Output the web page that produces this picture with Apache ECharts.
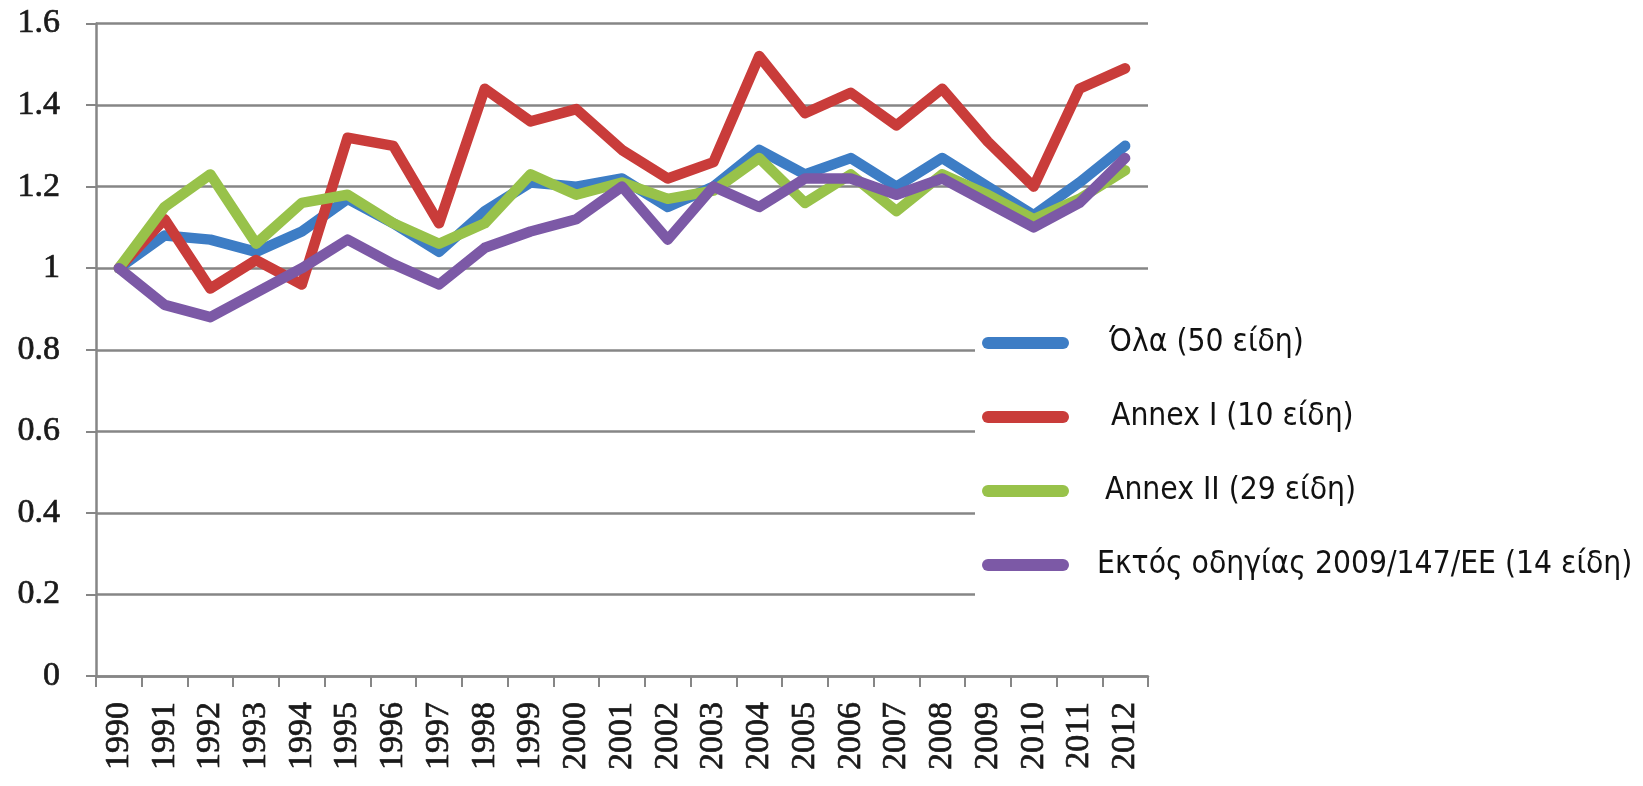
<!DOCTYPE html>
<html>
<head>
<meta charset="utf-8">
<title>Δείκτης πτηνών 1990–2012</title>
<style>
  html, body { margin: 0; padding: 0; background: #fff; }
  #chart { width: 1643px; height: 786px; }
</style>
<script src="https://cdn.jsdelivr.net/npm/echarts@6/dist/echarts.min.js"></script>
</head>
<body>
<div id="chart"></div>
<script>
// Years on the horizontal axis
var years = ['1990','1991','1992','1993','1994','1995','1996','1997','1998','1999','2000',
             '2001','2002','2003','2004','2005','2006','2007','2008','2009','2010','2011','2012'];

// Series names
var nameAll     = 'Όλα (50 είδη)';
var nameAnnex1  = 'Annex I (10 είδη)';
var nameAnnex2  = 'Annex II (29 είδη)';
var nameOutside = 'Εκτός οδηγίας 2009/147/ΕΕ (14 είδη)';

// Index values (1990 = 1)
var allSpecies = [1.00,1.08,1.07,1.04,1.09,1.17,1.11,1.04,1.14,1.21,1.20,1.22,1.15,1.20,1.29,1.23,1.27,1.20,1.27,1.20,1.13,1.21,1.30];
var annexI     = [1.00,1.12,0.95,1.02,0.96,1.32,1.30,1.11,1.44,1.36,1.39,1.29,1.22,1.26,1.52,1.38,1.43,1.35,1.44,1.31,1.20,1.44,1.49];
var annexII    = [1.00,1.15,1.23,1.06,1.16,1.18,1.11,1.06,1.11,1.23,1.18,1.21,1.17,1.19,1.27,1.16,1.23,1.14,1.23,1.18,1.12,1.17,1.24];
var outside    = [1.00,0.91,0.88,0.94,1.00,1.07,1.01,0.96,1.05,1.09,1.12,1.20,1.07,1.20,1.15,1.22,1.22,1.18,1.22,1.16,1.10,1.16,1.27];

var colors = ['#3d7dc5', '#c93c3a', '#98c24a', '#7c59a6'];

var chart = echarts.init(document.getElementById('chart'), null, { renderer: 'canvas' });

var gridColor = '#868686';
// serif tick labels, given a thin outline of the same colour for a heavier stroke
var labelFont = {
  fontFamily: 'Liberation Serif', fontSize: 34, color: '#1a1a1a',
  textBorderColor: '#1a1a1a', textBorderWidth: 0.7
};

function lineSeries(name, data, color) {
  return {
    name: name,
    type: 'line',
    data: data,
    symbol: 'none',
    smooth: false,
    itemStyle: { color: color },
    lineStyle: { width: 10.5, color: color, cap: 'round', join: 'round' },
    emphasis: { disabled: true },
    animation: false
  };
}

// capsule-shaped legend swatch
var swatch = 'path://M6,0 H81 A6,6 0 0 1 81,12 H6 A6,6 0 0 1 6,0 Z';

chart.setOption({
  backgroundColor: '#ffffff',
  animation: false,
  grid: { left: 96, right: 495, top: 23.5, bottom: 110, containLabel: false },
  xAxis: {
    type: 'category',
    data: years,
    boundaryGap: true,
    axisLine: { show: true, lineStyle: { color: gridColor, width: 2.5 } },
    axisTick: { show: true, alignWithLabel: false, interval: 0, length: 11, lineStyle: { color: gridColor, width: 2 } },
    axisLabel: Object.assign({ rotate: 90, interval: 0, margin: 26 }, labelFont),
    splitLine: { show: false }
  },
  yAxis: {
    type: 'value',
    min: 0,
    max: 1.6,
    interval: 0.2,
    axisLine: { show: true, lineStyle: { color: gridColor, width: 2.5 } },
    axisTick: { show: true, length: 10, lineStyle: { color: gridColor, width: 2 } },
    axisLabel: Object.assign({ margin: 36 }, labelFont),
    splitLine: { show: true, lineStyle: { color: gridColor, width: 2.5 } }
  },
  legend: {
    orient: 'vertical',
    left: 975,
    top: 297,
    backgroundColor: '#ffffff',
    padding: [30, 10, 30, 7],
    itemGap: 42,
    itemWidth: 87,
    itemHeight: 12,
    icon: swatch,
    selectedMode: false,
    textStyle: { fontFamily: 'DejaVu Sans Condensed', fontSize: 31.5, color: '#111' },
    data: [
      { name: nameAll,     textStyle: { padding: [0, 0, 0, 35] } },
      { name: nameAnnex1,  textStyle: { padding: [0, 0, 0, 37] } },
      { name: nameAnnex2,  textStyle: { padding: [0, 0, 0, 31] } },
      { name: nameOutside, textStyle: { padding: [0, 0, 0, 23] } }
    ]
  },
  series: [
    lineSeries(nameAll, allSpecies, colors[0]),
    lineSeries(nameAnnex1, annexI, colors[1]),
    lineSeries(nameAnnex2, annexII, colors[2]),
    lineSeries(nameOutside, outside, colors[3])
  ]
});
</script>
</body>
</html>
